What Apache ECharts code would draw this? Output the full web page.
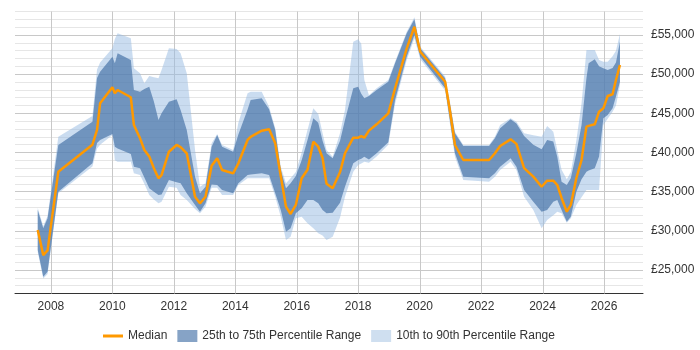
<!DOCTYPE html>
<html>
<head>
<meta charset="utf-8">
<script src="https://cdn.jsdelivr.net/npm/echarts@6/dist/echarts.min.js"></script>
<style>
  html, body { margin: 0; padding: 0; background: #fff; }
  #chart { width: 700px; height: 350px; }
</style>
</head>
<body>
<div id="chart"></div>
<script>
// Year (fractional) for each sample
const years = [
  2007.57, 2007.75, 2007.89, 2008.24, 2009.35, 2009.5, 2009.6, 2010.0, 2010.08, 2010.17,
  2010.6, 2010.7, 2010.9, 2011.04, 2011.2, 2011.35, 2011.5, 2011.6, 2011.84, 2012.09,
  2012.22, 2012.42, 2012.69, 2012.85, 2013.03, 2013.23, 2013.41, 2013.57, 2013.93, 2014.1,
  2014.4, 2014.5, 2014.86, 2015.1, 2015.3, 2015.48, 2015.65, 2015.8, 2015.97, 2016.16,
  2016.35, 2016.54, 2016.7, 2016.84, 2016.97, 2017.17, 2017.41, 2017.57, 2017.84, 2018.0,
  2018.1, 2018.2, 2018.35, 2018.6, 2018.98, 2019.2, 2019.58, 2019.83, 2020.02, 2020.83,
  2021.0, 2021.15, 2021.42, 2022.26, 2022.45, 2022.62, 2022.96, 2023.15, 2023.4, 2023.7,
  2023.97, 2024.15, 2024.35, 2024.48, 2024.62, 2024.79, 2024.92, 2025.1, 2025.27, 2025.43,
  2025.5, 2025.7, 2025.84, 2025.98, 2026.12, 2026.28, 2026.39, 2026.52
];

const p10 = [
  27300, 23900, 24500, 34800, 38200, 40500, 41000, 42230, 39000, 38830,
  38830, 37340, 37130, 36000, 34580, 34000, 33510, 33720, 35640, 35500,
  34580, 33940, 32800, 32230, 33090, 35500, 35500, 34580, 34580, 35850,
  36710, 36710, 36710, 36710, 34360, 31810, 28830, 29260, 31600, 31810,
  30960, 30320, 29680, 29400, 28830, 29260, 31700, 34360, 37550, 38400,
  38600, 38830, 38700, 39500, 41000, 46200, 51800, 54600, 51900, 47900,
  43300, 39470, 36490, 36280, 36920, 37770, 38830, 37770, 34360, 32660,
  30320, 31380, 32000, 32440, 32230, 31040, 31600, 33300, 34300, 35210,
  35210, 35210, 35210, 43500, 44300, 45200, 46000, 48600
];

const p25 = [
  27550, 24150, 24780, 35000, 38620, 41200, 41600, 42360, 40740, 40500,
  39810, 38190, 38000, 36800, 35430, 35000, 34580, 34640, 36490, 36200,
  36070, 34790, 33300, 32440, 33510, 35900, 35850, 35200, 34790, 36070,
  37130, 37200, 37340, 37130, 34790, 32660, 29890, 30320, 32230, 32870,
  33940, 33940, 33510, 32660, 32230, 32300, 33600, 35640, 38620, 39040,
  39200, 39470, 39100, 39900, 41300, 46700, 52230, 55000, 52230, 48200,
  43730, 39900, 36920, 36710, 37340, 38190, 39260, 38190, 35210, 33720,
  32440, 32660, 33720, 33940, 32660, 31170, 31810, 35000, 36600, 37550,
  37700, 37980, 39500, 44370, 44800, 45640, 47140, 49040
];

const median = [
  30100, 26900, 27500, 37550, 41000, 42900, 46280, 48320, 47560, 47980,
  47050, 43500, 41810, 40320, 39500, 37980, 36710, 37100, 40100, 40960,
  40700, 39900, 34360, 33510, 34360, 38300, 39260, 37770, 37340, 38620,
  41600, 42000, 42790, 42960, 41170, 37000, 33090, 32150, 33300, 36710,
  37800, 41380, 40740, 39300, 36000, 35430, 37500, 39900, 41890, 41890,
  42100, 41890, 42790, 43600, 45000, 48200, 53300, 56060, 52870, 49040,
  45000, 40960, 39040, 39040, 39900, 40830, 41680, 41100, 38000, 36920,
  35630, 36400, 36400, 35850, 34200, 32440, 33300, 36710, 39040, 43300,
  43400, 43600, 45210, 45640, 47210, 47430, 49260, 51170
];

const p75 = [
  32660, 30320, 31600, 40960, 43930, 49500, 50300, 52230, 51390, 52660,
  51810, 47980, 47760, 48100, 48400, 46500, 44150, 45000, 46480, 46790,
  45430, 42870, 36920, 34790, 35640, 40740, 42230, 40740, 40100, 42300,
  45500, 46700, 46920, 45510, 42870, 37770, 35430, 36070, 37000, 39000,
  41600, 44370, 43800, 41500, 39900, 39260, 41500, 44150, 48200, 48400,
  47500, 46920, 47200, 47980, 49040, 51390, 55220, 57000, 53300, 49470,
  45850, 42450, 40830, 40830, 41810, 43080, 44240, 43700, 42100, 41000,
  40400, 41600, 41400, 39470, 36280, 35850, 36700, 39900, 43510, 49500,
  51390, 51900, 51000, 50750, 50540, 50800, 51500, 54150
];

const p90 = [
  32900, 30600, 31900, 42020, 44660, 50600, 51500, 53300, 54500, 55220,
  54580, 50750, 50110, 48830, 49770, 49600, 49470, 50530, 53300, 53200,
  52660, 50110, 40320, 35640, 36070, 41170, 42360, 40960, 40320, 43800,
  47560, 47760, 47760, 45850, 43080, 38190, 36070, 36710, 37500, 40000,
  42870, 45640, 44900, 42500, 40320, 39470, 42500, 45430, 54150, 54450,
  53880, 49260, 47300, 48200, 49260, 51600, 55430, 57260, 53500, 49690,
  46200, 42660, 40960, 40960, 42020, 43510, 44370, 43930, 42450, 42200,
  42020, 43380, 42660, 40320, 37800, 36600, 37500, 41500, 46300, 53090,
  53090, 53090, 51800, 51600, 51600, 52300, 53000, 55130
];

const yearTicks = [2008, 2010, 2012, 2014, 2016, 2018, 2020, 2022, 2024, 2026];
const salaryTicks = [25000, 30000, 35000, 40000, 45000, 50000, 55000];

const chart = echarts.init(document.getElementById('chart'));

const X_MIN = 2006.83, X_MAX = 2027.27;
const Y_MIN = 22000, Y_MAX = 58000;

const LIGHT = 'rgba(150,185,225,0.5)';
const DARK = 'rgba(69,114,167,0.68)';
const DARK_KEY = '#86a3c6';
const LIGHT_KEY = '#cfdff0';
const ORANGE = '#ff9900';
const MINOR = '#e6e6e6';
const MAJOR = '#c8c8c8';

const fmtMoney = (v) => '£' + String(v).replace(/\B(?=(\d{3})+(?!\d))/g, ',');

// polygon between two percentile series, built through the axis scales
const bandRenderer = (lo, hi, fill) => (params, api) => {
  if (params.dataIndex !== 0) return null;
  const top = years.map((y, i) => api.coord([y, hi[i]]));
  const bottom = years.map((y, i) => api.coord([y, lo[i]])).reverse();
  return {
    type: 'polygon',
    shape: { points: top.concat(bottom) },
    style: { fill: fill }
  };
};

const option = {
  animation: false,
  textStyle: { fontFamily: 'Liberation Sans, Arial, sans-serif' },
  grid: { left: 15, right: 57, top: 11.5, bottom: 56.5 },
  legend: {
    bottom: 3,
    left: 98,
    itemWidth: 20,
    itemHeight: 12,
    itemGap: 10,
    textStyle: { fontSize: 12, color: '#333' },
    data: [
      { name: 'Median', icon: 'path://M0,0 L20,0 L20,3 L0,3 Z', itemStyle: { color: ORANGE } },
      { name: '25th to 75th Percentile Range', icon: 'rect', itemStyle: { color: DARK_KEY } },
      { name: '10th to 90th Percentile Range', icon: 'rect', itemStyle: { color: LIGHT_KEY } }
    ]
  },
  xAxis: {
    type: 'value',
    min: X_MIN,
    max: X_MAX,
    axisLine: { lineStyle: { color: '#333', width: 1 } },
    axisTick: { show: false },
    axisLabel: { customValues: yearTicks, color: '#333', fontSize: 12, margin: 7, formatter: (v) => String(v) },
    splitLine: { show: false }
  },
  yAxis: {
    type: 'value',
    position: 'right',
    min: Y_MIN,
    max: Y_MAX,
    interval: 1000,
    axisLine: { show: false },
    axisTick: { show: false },
    axisLabel: { customValues: salaryTicks, color: '#333', fontSize: 12, margin: 8, formatter: fmtMoney },
    splitLine: { show: true, lineStyle: { color: [MINOR, MINOR, MINOR, MAJOR, MINOR], width: 1 } }
  },
  series: [
    {
      // vertical year grid lines every two years
      name: 'yearGrid',
      type: 'custom',
      silent: true,
      z: 1,
      data: yearTicks.map((y) => [y]),
      renderItem: (params, api) => {
        const yr = api.value(0);
        const a = api.coord([yr, Y_MIN]);
        const b = api.coord([yr, Y_MAX]);
        return {
          type: 'line',
          shape: { x1: Math.round(a[0]) + 0.5, y1: a[1], x2: Math.round(b[0]) + 0.5, y2: b[1] },
          style: { stroke: MAJOR, lineWidth: 1 }
        };
      }
    },
    {
      name: '10th to 90th Percentile Range',
      type: 'custom',
      z: 2,
      silent: true,
      itemStyle: { color: LIGHT_KEY },
      data: [[years[0], p10[0]]],
      renderItem: bandRenderer(p10, p90, LIGHT)
    },
    {
      name: '25th to 75th Percentile Range',
      type: 'custom',
      z: 3,
      silent: true,
      itemStyle: { color: DARK_KEY },
      data: [[years[0], p25[0]]],
      renderItem: bandRenderer(p25, p75, DARK)
    },
    {
      name: 'Median',
      type: 'line',
      z: 5,
      data: years.map((y, i) => [y, median[i]]),
      symbol: 'none',
      itemStyle: { color: ORANGE },
      lineStyle: { color: ORANGE, width: 2.5 }
    }
  ]
};

chart.setOption(option);
</script>
</body>
</html>
